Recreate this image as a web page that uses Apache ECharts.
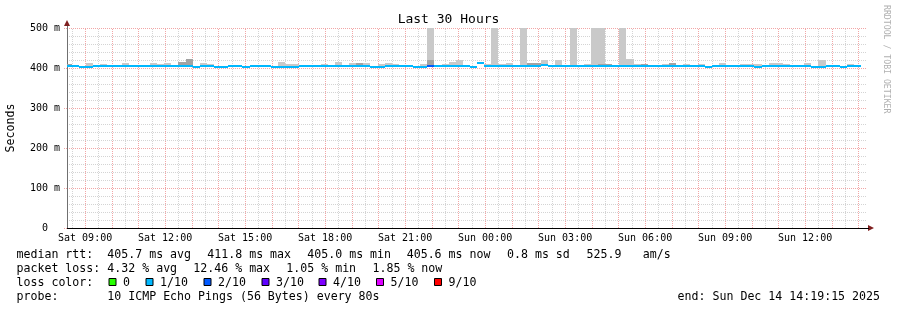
<!DOCTYPE html>
<html><head><meta charset="utf-8">
<script src="https://cdn.jsdelivr.net/npm/echarts@6/dist/echarts.min.js"></script>
<style>html,body{margin:0;padding:0;background:#fff}#c{width:897px;height:310px}</style>
</head><body><div id="c"></div><script>
// ---------------- data ----------------
// time axis: hours since Sat 00:00
const startHour = 8 + 19/60 + 15/3600;   // Sat 08:19:15
const endHour = startHour + 30;          // Sun 14:19:15
const firstStepHour = 8 + 14/60;         // start of first 16-min step
const stepHours = 16/60;

const tickHours = [9, 12, 15, 18, 21, 24, 27, 30, 33, 36];
const tickLabels = ['Sat 09:00','Sat 12:00','Sat 15:00','Sat 18:00','Sat 21:00','Sun 00:00','Sun 03:00','Sun 06:00','Sun 09:00','Sun 12:00'];

// median rtt per step (ms)
const median = [
 405.8,405.8,403.5,403.5,405.8,405.8,405.8,405.8,405.8,405.8,
 405.8,405.8,405.8,405.8,405.8,405.8,405.8,405.8,403.5,405.8,
 405.8,403.5,403.5,405.8,405.8,403.5,405.8,405.8,405.8,403.5,
 403.5,403.5,403.5,405.8,405.8,405.8,405.8,405.8,405.8,405.8,
 405.8,405.8,405.8,403.5,403.5,405.8,405.8,405.8,405.8,403.5,
 403.5,405.8,405.8,405.8,405.8,405.8,405.8,403.5,411.5,405.8,
 405.8,405.8,405.8,405.8,405.8,405.8,405.8,408.0,405.8,405.8,
 405.8,405.8,405.8,405.8,405.8,405.8,405.8,405.8,405.8,405.8,
 405.8,405.8,405.8,405.8,405.8,405.8,405.8,405.8,405.8,405.8,
 403.5,405.8,405.8,405.8,405.8,405.8,405.8,403.5,405.8,405.8,
 405.8,405.8,405.8,405.8,405.8,403.5,403.5,405.8,405.8,403.5,
 405.8,405.8
];
// lost pings out of 10 per step
const loss = [
 1,1,1,1,1,1,1,1,1,1, 1,1,1,1,1,1,1,1,1,1, 1,1,1,1,1,1,1,1,1,1,
 1,1,1,1,1,1,1,1,1,1, 1,1,1,1,1,1,1,1,1,1, 1,2,1,1,1,1,1,1,1,1,
 1,1,1,1,1,1,1,1,1,1, 1,1,1,1,1,1,1,1,1,1, 1,1,1,1,1,1,1,1,1,1,
 1,1,1,1,1,1,1,1,1,1, 1,1,1,1,1,1,1,1,1,1, 1,1
];
// smoke: outer (max) ping and inner ping level per step, null = hidden behind median
const smokeMax = [
 410,null,null,412.5,null,410,null,null,412.5,null,
 null,null,412,410,412,null,415,422,null,412,
 410,null,null,null,null,null,null,null,null,null,
 415,410,410,null,null,null,410,null,415,null,
 412,412,412,null,410,412,410,null,null,null,
 410,520,null,410,415,420,null,null,null,410,
 520,410,412,null,520,412,412,420,null,420,
 null,520,null,410,520,520,410,null,520,422,
 410,410,null,null,410,412,null,410,null,410,
 null,null,412,null,null,410,410,410,null,412,
 412,410,null,null,412,null,420,null,null,null,
 410,null
];
const smokeInner = [
 410,null,null,null,null,null,null,null,null,null,
 null,null,null,null,null,null,415,422,null,null,
 null,null,null,null,null,null,null,null,null,null,
 null,null,null,null,null,null,null,null,null,null,
 null,412,null,null,null,null,null,null,null,null,
 null,420,null,null,null,null,null,null,null,null,
 null,null,null,null,null,412,412,null,null,null,
 null,null,null,null,null,410,410,null,null,null,
 null,410,null,null,null,412,null,null,null,null,
 null,null,null,null,null,null,null,null,null,null,
 null,null,null,null,null,null,null,null,null,null,
 null,null
];

const lossLegend = ['0','1/10','2/10','3/10','4/10','5/10','9/10'];
const lossColors = ['#26ff00','#00b8ff','#0059ff','#5e00ff','#7e00ff','#dd00ff','#ff0000'];
const lossColorByCount = {0:'#26ff00',1:'#00b8ff',2:'#0059ff',3:'#5e00ff',4:'#7e00ff',5:'#dd00ff',9:'#ff0000'};

const statLine1 = ['median rtt:','405.7 ms avg','411.8 ms max','405.0 ms min','405.6 ms now','0.8 ms sd','525.9','am/s'];
const statLine2 = ['packet loss:','4.32 % avg','12.46 % max','1.05 % min','1.85 % now'];
const probeLine = ['probe:','10 ICMP Echo Pings (56 Bytes) every 80s'];
const endText = 'end: Sun Dec 14 14:19:15 2025';

// ---------------- layout / render ----------------
const FONT = 'DejaVu Sans Mono';
const MAJOR = '#f2a6a6';
const MINOR = '#d4d4d4';
const chart = echarts.init(document.getElementById('c'), null, {renderer:'canvas'});

const colData = median.map((m, i) => [firstStepHour + i*stepHours, firstStepHour + (i+1)*stepHours, m, loss[i]]);
const smokeData = [];
smokeMax.forEach((v, i) => { if (v != null) smokeData.push([firstStepHour + i*stepHours, firstStepHour + (i+1)*stepHours, median[i], v, smokeInner[i] == null ? median[i] : smokeInner[i]]); });
const gridHours = [];
for (let h = Math.ceil(startHour*2)/2; h <= endHour; h += 0.5) gridHours.push([h, Number.isInteger(h) ? 1 : 0]);

function clip(shape, params) {
  return echarts.graphic.clipRectByRect(shape, {x: params.coordSys.x, y: params.coordSys.y, width: params.coordSys.width, height: params.coordSys.height});
}

const textStyleBase = {fontFamily: FONT, fontSize: 11.6, fill: '#000'};
const graphics = [];
const lineY = [254.5, 268.5, 282.5, 296.5];
const line1X = [16.5, 107.3, 207.3, 307.3, 406.7, 507, 586.5, 642.7];
statLine1.forEach((t, i) => graphics.push({type:'text', x: line1X[i], y: lineY[0], style: Object.assign({text: t, textVerticalAlign:'middle'}, textStyleBase)}));
const line2X = [16.5, 107.3, 193.3, 286.3, 372.5];
statLine2.forEach((t, i) => graphics.push({type:'text', x: line2X[i], y: lineY[1], style: Object.assign({text: t, textVerticalAlign:'middle'}, textStyleBase)}));
graphics.push({type:'text', x: 16.5, y: lineY[2], style: Object.assign({text: 'loss color:', textVerticalAlign:'middle'}, textStyleBase)});
const sqX = [108.5, 145.5, 203.5, 261.5, 318.5, 376, 434];
lossLegend.forEach((t, i) => {
  graphics.push({type:'rect', shape:{x: sqX[i]+0.5, y: 278.5, width: 7, height: 7}, style:{fill: lossColors[i], stroke:'#000', lineWidth:1}});
  graphics.push({type:'text', x: sqX[i] + 14.5, y: lineY[2], style: Object.assign({text: t, textVerticalAlign:'middle'}, textStyleBase)});
});
const line4X = [16.5, 107.3];
probeLine.forEach((t, i) => graphics.push({type:'text', x: line4X[i], y: lineY[3], style: Object.assign({text: t, textVerticalAlign:'middle'}, textStyleBase)}));
graphics.push({type:'text', x: 880, y: lineY[3], style: Object.assign({text: endText, textAlign:'right', textVerticalAlign:'middle'}, textStyleBase)});
// credit
graphics.push({type:'text', x: 886, y: 5, rotation: -Math.PI/2, style:{text:'RRDTOOL / TOBI OETIKER', fontFamily: FONT, fontSize: 8.2, fill:'#b0b0b0', textVerticalAlign:'middle'}});
// axis arrows
graphics.push({type:'polygon', shape:{points:[[64,26],[70,26],[67,20]]}, style:{fill:'#7f1f1f'}});
graphics.push({type:'polygon', shape:{points:[[868,225],[868,231],[874,228]]}, style:{fill:'#7f1f1f'}});
graphics.push({type:'line', shape:{x1:67.5,y1:26,x2:67.5,y2:28}, style:{stroke:'#707070', lineWidth:1}});
graphics.push({type:'line', shape:{x1:867,y1:228.5,x2:869,y2:228.5}, style:{stroke:'#000', lineWidth:1}});

const option = {
  animation: false,
  backgroundColor: '#fff',
  title: {text: 'Last 30 Hours', left: 'center', top: 13, padding: 0, textStyle: {fontFamily: FONT, fontSize: 13, fontWeight: 'normal', color: '#000'}},
  grid: {left: 67, right: 30, top: 28, bottom: 82, outerBoundsMode: 'none'},
  xAxis: {
    type: 'value', min: startHour, max: endHour,
    axisLine: {show: true, lineStyle: {color: '#000', width: 1}},
    axisTick: {show: false},
    splitLine: {show: false},
    axisLabel: {
      customValues: tickHours, margin: 5,
      fontFamily: FONT, fontSize: 10, color: '#000',
      formatter: v => { const i = tickHours.indexOf(Math.round(v)); return i >= 0 ? tickLabels[i] : ''; }
    }
  },
  yAxis: {
    type: 'value', min: 0, max: 500, interval: 100,
    name: 'Seconds', nameLocation: 'middle', nameGap: 50, nameRotate: 90, nameMoveOverlap: false,
    nameTextStyle: {fontFamily: FONT, fontSize: 11.6, color: '#000'},
    axisLine: {show: true, lineStyle: {color: '#707070', width: 1}},
    axisTick: {show: true, length: 4, lineStyle: {color: MAJOR, type: [1,1]}},
    axisLabel: {margin: 7, fontFamily: FONT, fontSize: 10, color: '#000', formatter: v => v === 0 ? '0\u00a0\u00a0' : v + ' m'},
    splitLine: {show: true, lineStyle: {color: MAJOR, width: 1, type: [1,1]}},
    minorTick: {show: false, splitNumber: 5},
    minorSplitLine: {show: true, lineStyle: {color: MINOR, width: 1, type: [1,1]}}
  },
  graphic: graphics,
  series: [
    {
      type: 'custom', name: 'vgrid', z: 1, silent: true,
      data: gridHours,
      renderItem: (params, api) => {
        const h = api.value(0), major = api.value(1);
        const p0 = api.coord([h, 0]), p1 = api.coord([h, 500]);
        const x = Math.round(p0[0]) + 0.5;
        return {type: 'line', shape: {x1: x, y1: p0[1], x2: x, y2: p1[1]}, style: {stroke: major ? MAJOR : MINOR, lineWidth: 1, lineDash: [1,1]}};
      }
    },
    {
      type: 'custom', name: 'smoke', z: 2, silent: true,
      data: smokeData,
      renderItem: (params, api) => {
        const t0 = api.value(0), t1 = api.value(1), base = api.value(2), top = api.value(3), inner = api.value(4);
        const a = api.coord([t0, top]), b = api.coord([t1, base]), c = api.coord([t0, inner]);
        const children = [];
        const outer = clip({x: Math.round(a[0]), y: Math.round(a[1]), width: Math.round(b[0]) - Math.round(a[0]), height: Math.round(b[1]) - Math.round(a[1])}, params);
        if (outer) children.push({type: 'rect', shape: outer, style: {fill: '#c9c9c9'}});
        if (inner > base) {
          const ir = clip({x: Math.round(a[0]), y: Math.round(c[1]), width: Math.round(b[0]) - Math.round(a[0]), height: Math.round(b[1]) - Math.round(c[1])}, params);
          if (ir) children.push({type: 'rect', shape: ir, style: {fill: '#a3a3a3'}});
        }
        return {type: 'group', children};
      }
    },
    {
      type: 'custom', name: 'median', z: 3, silent: true,
      data: colData,
      renderItem: (params, api) => {
        const t0 = api.value(0), t1 = api.value(1), m = api.value(2), l = api.value(3);
        const a = api.coord([t0, m]), b = api.coord([t1, m]);
        const r = clip({x: Math.round(a[0]), y: Math.round(a[1] - 1), width: Math.round(b[0]) - Math.round(a[0]), height: 2}, params);
        if (!r) return null;
        return {type: 'rect', shape: r, style: {fill: lossColorByCount[l]}};
      }
    }
  ]
};
chart.setOption(option);
</script></body></html>
